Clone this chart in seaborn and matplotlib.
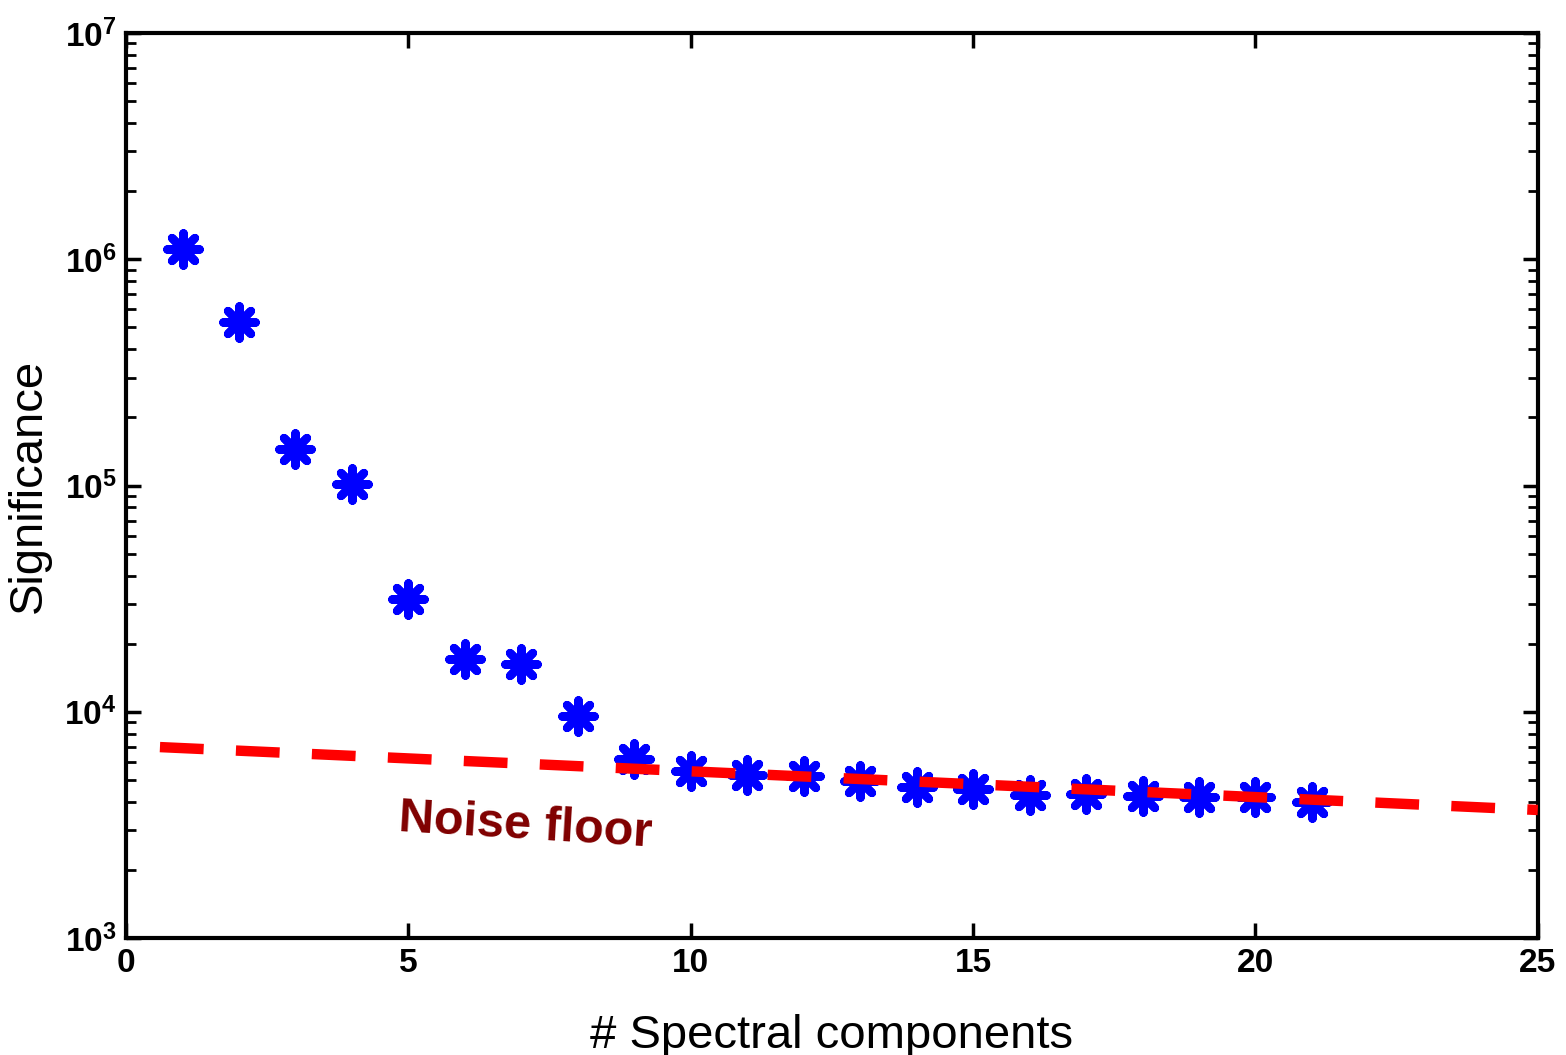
import numpy as np
import matplotlib
matplotlib.use("Agg")
import matplotlib.pyplot as plt
import matplotlib.ticker as mticker
import seaborn as sns


# ==================================
# DATA
# ==================================

components = [1, 2, 3, 4, 5, 6, 7, 8, 9, 10, 11,
              12, 13, 14, 15, 16, 17, 18, 19, 20, 21]
significance = [1.11e6, 5.28e5, 1.45e5, 1.02e5, 3.15e4, 1.71e4, 1.63e4,
                9.6e3, 6.18e3, 5.47e3, 5.25e3, 5.2e3, 4.94e3, 4.65e3,
                4.56e3, 4.29e3, 4.33e3, 4.24e3, 4.2e3, 4.2e3, 3.99e3]

noise_x = [0.6, 25]
noise_y = [6980, 3680]

x_ticks = [0, 5, 10, 15, 20, 25]
y_ticks = [1e3, 1e4, 1e5, 1e6, 1e7]


# ==================================
# STYLE
# ==================================

sns.set_style("ticks")
plt.rcParams["font.family"] = ["Liberation Sans", "DejaVu Sans"]
plt.rcParams["mathtext.fontset"] = "custom"
plt.rcParams["mathtext.rm"] = "Liberation Sans:bold"
plt.rcParams["mathtext.bf"] = "Liberation Sans:bold"
plt.rcParams["mathtext.it"] = "Liberation Sans:bold"
plt.rcParams["text.color"] = "black"
plt.rcParams["axes.labelcolor"] = "black"
plt.rcParams["axes.edgecolor"] = "black"
plt.rcParams["xtick.color"] = "black"
plt.rcParams["ytick.color"] = "black"


# ==================================
# PLOT
# ==================================

fig = plt.figure(figsize=(15.66, 10.55), dpi=100)
ax = fig.add_axes([0.0805, 0.1109, 0.9015, 0.8578])

sns.scatterplot(
    x=components,
    y=significance,
    marker=(8, 2, 0),
    s=540,
    color="blue",
    edgecolor="blue",
    linewidth=6,
    zorder=3,
    ax=ax
)
ax.collections[-1].set_capstyle("butt")

sns.lineplot(
    x=noise_x,
    y=noise_y,
    color="red",
    linewidth=7.5,
    zorder=4,
    ax=ax
)
ax.lines[-1].set_dashes((4.2, 3.1))
ax.lines[-1].set_solid_capstyle("butt")
ax.lines[-1].set_dash_capstyle("butt")

ax.set_yscale("log")
ax.set_xlim(0, 25)
ax.set_ylim(1e3, 1e7)

ax.set_xticks(x_ticks)
ax.set_xticklabels([str(t) for t in x_ticks])
ax.yaxis.set_major_locator(mticker.FixedLocator(y_ticks))
ax.yaxis.set_major_formatter(
    mticker.FuncFormatter(lambda v, p: r"$10^{%d}$" % round(np.log10(v)))
)
ax.yaxis.set_minor_locator(mticker.LogLocator(base=10, subs=np.arange(2, 10)))
ax.yaxis.set_minor_formatter(mticker.NullFormatter())

for s in ax.spines.values():
    s.set_visible(True)
    s.set_linewidth(3)

ax.tick_params(axis="both", which="major", direction="in", length=11,
               width=2.5, top=True, right=True, labelsize=24, pad=7)
ax.tick_params(axis="y", which="minor", direction="in", length=7,
               width=2, right=True, left=True)
ax.tick_params(axis="x", which="minor", bottom=False, top=False)
for lab in ax.get_xticklabels():
    lab.set_fontweight("bold")

ax.set_xlabel("# Spectral components", fontsize=34)
ax.set_ylabel("Significance", fontsize=34)
ax.xaxis.set_label_coords(0.5, -0.084)
ax.yaxis.set_label_coords(-0.053, 0.5)

ax.text(7.08, 3125, "Noise floor", color="#800000", fontsize=35,
        fontweight="bold", rotation=-3.5, ha="center", va="center",
        rotation_mode="anchor")

plt.savefig("out.png", dpi=100)
plt.close()
